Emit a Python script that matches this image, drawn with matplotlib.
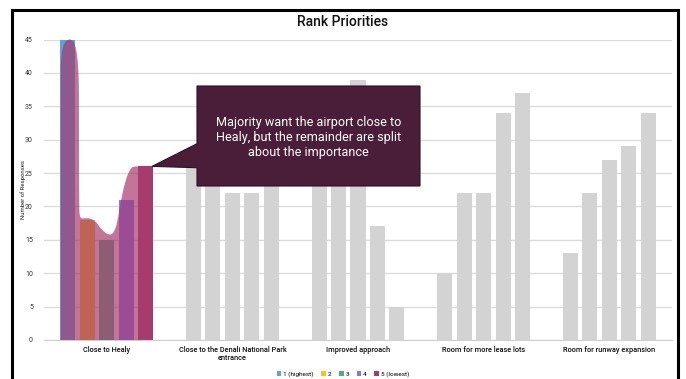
import matplotlib.pyplot as plt
from matplotlib.patches import Rectangle, Polygon, PathPatch, Patch
from matplotlib.path import Path
import numpy as np

plt.rcParams['font.family'] = ['Roboto', 'DejaVu Sans']

categories = ['Close to Healy', 'Close to the Denali National Park\nentrance',
              'Improved approach', 'Room for more lease lots', 'Room for runway expansion']
rank_labels = ['1 (highest)', '2', '3', '4', '5 (lowest)']
rank_colors = ['#5ba3d9', '#f5c518', '#4caf80', '#7b7bef', '#a83a6e']

# responses per rank, one list per rank (index = category)
rank1 = [45, 27, 26, 10, 13]
rank2 = [18, 26, 28, 22, 22]
rank3 = [15, 22, 39, 22, 27]
rank4 = [21, 22, 17, 34, 29]
rank5 = [26, 24, 5, 37, 34]
ranks = [rank1, rank2, rank3, rank4, rank5]

yticks = [0, 5, 10, 15, 20, 25, 30, 35, 40, 45]

note = "Majority want the airport close to\nHealy, but the remainder are split\nabout the importance"

# smooth highlight shape drawn over the first group (data coords)
blob_start = [(-0.367, 0), (-0.367, 40)]
blob_curves = [
    [(-0.367, 44.4), (-0.33, 45), (-0.293, 45)],
    [(-0.255, 45), (-0.224, 43.5), (-0.222, 37)],
    [(-0.221, 30), (-0.221, 22), (-0.219, 19.5)],
    [(-0.217, 18.4), (-0.21, 18.2), (-0.19, 18.2)],
    [(-0.15, 18.3), (-0.11, 18.3), (-0.07, 17.3)],
    [(-0.035, 16.3), (0.0, 15.8), (0.025, 15.8)],
    [(0.06, 15.8), (0.08, 17.0), (0.10, 19.5)],
    [(0.13, 22.8), (0.165, 25.4), (0.205, 25.9)],
    [(0.225, 26), (0.245, 26), (0.26, 26)],
]
blob_end = [(0.26, 0), (-0.367, 0)]

fig = plt.figure(figsize=(6.86, 3.79), dpi=100)
ax = fig.add_axes([44 / 686, 1 - 340 / 379, 628 / 686, 300.5 / 379])

x = np.arange(len(categories))
step = 0.155
width = 0.12
for i, vals in enumerate(ranks):
    offs = x + (i - 2) * step
    cols = [rank_colors[i]] + ['#d3d3d3'] * (len(categories) - 1)
    ax.bar(offs, vals, width=width, color=cols, zorder=2, clip_on=False)

verts = list(blob_start)
codes = [Path.MOVETO, Path.LINETO]
for seg in blob_curves:
    verts += seg
    codes += [Path.CURVE4] * 3
verts += blob_end
codes += [Path.LINETO, Path.CLOSEPOLY]
blob = PathPatch(Path(verts, codes), facecolor='#a83a6e', edgecolor='none',
                 alpha=0.7, zorder=3, clip_on=False)
ax.add_patch(blob)

ax.set_xlim(-0.5, 4.5)
ax.set_ylim(0, 45)
ax.set_yticks(yticks)
ax.set_xticks(x)
ax.set_xticklabels(categories, fontsize=5.3, color='#111111', linespacing=1.0,
                   fontweight='medium')
ax.tick_params(axis='y', labelsize=5, colors='#333333', length=0, pad=8)
ax.tick_params(axis='x', length=0, pad=4)
ax.grid(axis='y', color='#dcdcdc', linewidth=1.0, zorder=0)
ax.set_axisbelow(True)
for s in ['top', 'right', 'left']:
    ax.spines[s].set_visible(False)
ax.spines['bottom'].set_color('#d0d0d0')
ax.set_ylabel('Number of Responses', fontsize=4.3, color='#222222')
ax.yaxis.set_label_coords(-0.029, 0.5)

# callout box
bx0, bx1 = (197 - 44) / 628 * 5 - 0.5, (420 - 44) / 628 * 5 - 0.5
by0, by1 = (340 - 186) / 300.5 * 45, (340 - 86) / 300.5 * 45
tip = ((152 - 44) / 628 * 5 - 0.5, 26.0)
callout = Polygon([(bx0, by0), (bx0, 25.8), tip, (bx0, 29.4), (bx0, by1),
                   (bx1, by1), (bx1, by0)], closed=True,
                  facecolor='#4a1d38', edgecolor='#2e0f22', linewidth=0.8, zorder=5,
                  clip_on=False)
ax.add_patch(callout)
ax.text((bx0 + bx1) / 2, (by0 + by1) / 2 - 0.2, note, ha='center', va='center',
        fontsize=9.1, color='white', linespacing=1.2, zorder=6)

fig.text(0.5, 1 - 22 / 379, 'Rank Priorities', ha='center', va='center',
         fontsize=10, fontweight='medium', color='#111111')

handles = [Patch(facecolor=c, edgecolor='none') for c in rank_colors]
fig.legend(handles, rank_labels, loc='center', bbox_to_anchor=(0.5, 1 - 374 / 379),
           ncol=5, frameon=False, fontsize=4.6, handlelength=0.7, handleheight=0.7,
           handletextpad=0.3, columnspacing=1.2)

# outer black frame
fig.add_artist(Rectangle((11.5 / 686, -0.05), 666 / 686, 1.05 - 10.5 / 379,
                         transform=fig.transFigure, fill=False, edgecolor='black',
                         linewidth=2.2))

fig.savefig('out.png', dpi=100)
